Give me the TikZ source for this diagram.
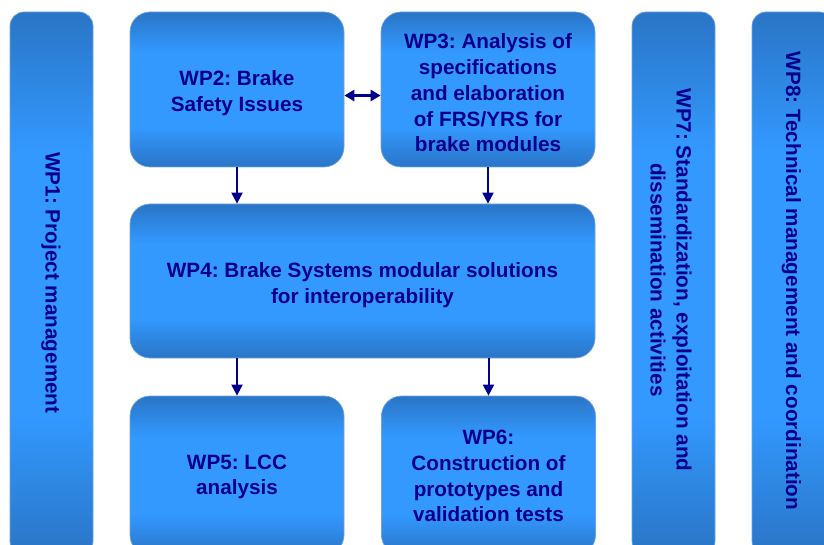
\documentclass[tikz,border=0pt]{standalone}
\usepackage{fontspec}
\setmainfont{Liberation Sans}
\usetikzlibrary{arrows.meta}
\definecolor{wpdark}{RGB}{42,117,198}
\definecolor{wplight}{RGB}{51,153,255}
\definecolor{wpedge}{RGB}{110,165,225}
\definecolor{wptext}{RGB}{0,0,140}
\pgfdeclareverticalshading{wpshade}{100bp}{color(0bp)=(wpdark); color(25bp)=(wpdark); color(38bp)=(wplight); color(62bp)=(wplight); color(75bp)=(wpdark); color(100bp)=(wpdark)}
\frenchspacing
\begin{document}
\begin{tikzpicture}[x=1pt,y=-1pt,
  wpbox/.style={shading=wpshade, draw=wpedge, line width=0.7pt, rounded corners=20pt, inner sep=0pt},
  wpbar/.style={shading=wpshade, draw=wpedge, line width=0.7pt, rounded corners=14pt, inner sep=0pt},
  wptxt/.style={text=wptext, align=center, inner sep=0pt, font=\fontsize{20.7}{25.8}\selectfont\bfseries},
  arr/.style={-{Triangle[length=11pt,width=11pt]}, draw=wptext, line width=2pt},
  darr/.style={{Triangle[length=10pt,width=11pt]}-{Triangle[length=10pt,width=11pt]}, draw=wptext, line width=2.5pt}]
\useasboundingbox (0,0) rectangle (824,545);
\clip (0,0) rectangle (824,545);
% bars
\node[wpbar, minimum width=83pt, minimum height=543pt] (wp1) at (51.5,283.5) {};
\node[wptxt, rotate=-90] (wp1t) at (51,283) {WP1: Project management};
\node[wpbar, minimum width=83pt, minimum height=543pt] (wp7) at (673.5,283.5) {};
\node[wptxt, rotate=-90] (wp7t) at (671,280) {WP7: Standardization, exploitation and\\dissemination activities};
\node[wpbar, minimum width=81pt, minimum height=543pt] (wp8) at (792.5,283.5) {};
\node[wptxt, rotate=-90] (wp8t) at (791.5,281) {WP8: Technical management and coordination};
% boxes
\node[wpbox, minimum width=214pt, minimum height=155pt] (wp2) at (237,89.5) {};
\node[wptxt] (wp2t) at (237,93) {WP2: Brake\\Safety Issues};
\node[wpbox, minimum width=214pt, minimum height=155pt] (wp3) at (488,89.5) {};
\node[wptxt] (wp3t) at (488,93) {WP3: Analysis of\\specifications\\and elaboration\\of FRS/YRS for\\brake modules};
\node[wpbox, minimum width=465pt, minimum height=154pt] (wp4) at (362.5,281) {};
\node[wptxt] (wp4t) at (362.5,285) {WP4: Brake Systems modular solutions\\for interoperability};
\node[wpbox, minimum width=214pt, minimum height=159pt] (wp5) at (237,475.5) {};
\node[wptxt] (wp5t) at (237,477) {WP5: LCC\\analysis};
\node[wpbox, minimum width=214pt, minimum height=159pt] (wp6) at (488.5,475.5) {};
\node[wptxt] (wp6t) at (488.5,476) {WP6:\\Construction of\\prototypes and\\validation tests};
% connectors
\draw[darr] ([yshift=-6pt]wp2.east) -- ([yshift=-6pt]wp2.east -| wp3.west);
\draw[arr] (wp2.south) -- (wp2.south |- wp4.north);
\draw[arr] (wp3.south) -- (wp3.south |- wp4.north);
\draw[arr] (wp5.north |- wp4.south) -- (wp5.north);
\draw[arr] (wp6.north |- wp4.south) -- (wp6.north);
\end{tikzpicture}
\end{document}
